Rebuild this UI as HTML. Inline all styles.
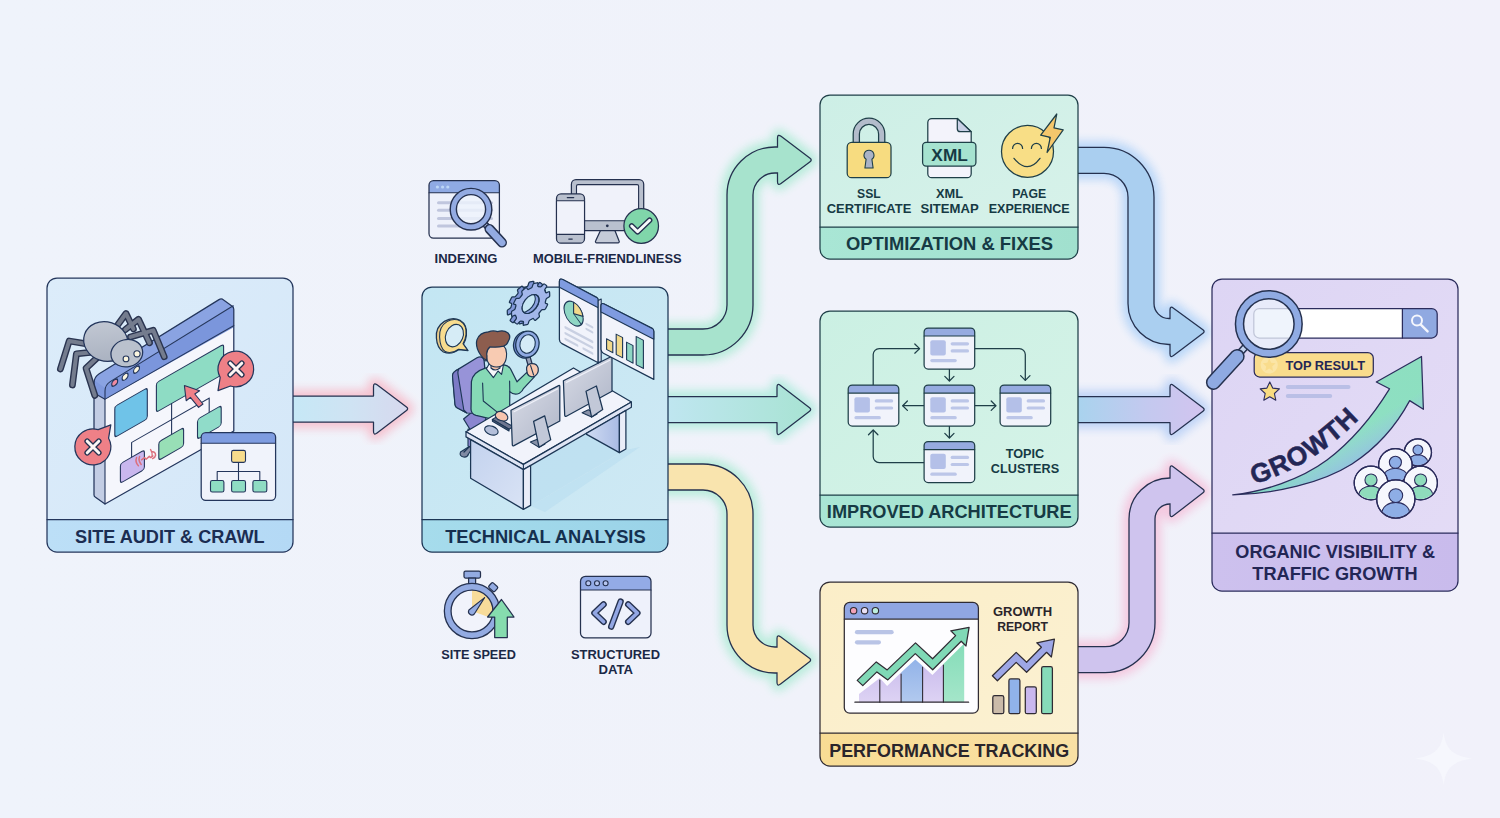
<!DOCTYPE html>
<html lang="en">
<head>
<meta charset="utf-8">
<title>Technical SEO Workflow</title>
<style>
html,body{margin:0;padding:0;background:#f0f3fb;}
body{width:1500px;height:818px;overflow:hidden;}
svg{display:block;}
text{font-family:"Liberation Sans",sans-serif;font-weight:700;fill:var(--tk,#1b2846);}
.o{stroke:var(--k,#25314f);stroke-width:1.25;stroke-linejoin:round;stroke-linecap:round;}
.t{stroke:var(--k,#25314f);stroke-width:1.1;stroke-linejoin:round;stroke-linecap:round;}
.n{fill:none;}
.k1{--k:#24365c;--tk:#1b2d52;}
.k2{--k:#1c3655;--tk:#15304f;}
.k3{--k:#1f3f48;--tk:#163a44;}
.k5{--k:#2f2b33;--tk:#2a252b;}
.k6{--k:#2b2c5c;--tk:#232655;}
</style>
</head>
<body>
<svg width="1500" height="818" viewBox="0 0 1500 818">
<defs>
<linearGradient id="bg" x1="0" y1="0" x2="1" y2="0">
<stop offset="0" stop-color="#eff3fb"/><stop offset="0.55" stop-color="#f0f2fa"/><stop offset="1" stop-color="#f1f1fa"/>
</linearGradient>
<filter id="glow" x="-20%" y="-20%" width="140%" height="140%"><feGaussianBlur stdDeviation="5"/></filter>
<filter id="soft" x="-20%" y="-20%" width="140%" height="140%"><feGaussianBlur stdDeviation="3"/></filter>
<linearGradient id="ga1" gradientUnits="userSpaceOnUse" x1="293" y1="0" x2="409" y2="0">
<stop offset="0" stop-color="#c6e8f6"/><stop offset="0.5" stop-color="#cfe3f3"/><stop offset="1" stop-color="#d7d8ee"/>
</linearGradient>
<linearGradient id="ga2" gradientUnits="userSpaceOnUse" x1="668" y1="0" x2="812" y2="0">
<stop offset="0" stop-color="#bfe6f0"/><stop offset="1" stop-color="#a8e3d3"/>
</linearGradient>
<linearGradient id="ga3" gradientUnits="userSpaceOnUse" x1="1078" y1="0" x2="1205" y2="0">
<stop offset="0" stop-color="#a9d3ee"/><stop offset="0.55" stop-color="#c4c9ef"/><stop offset="1" stop-color="#d2c4ef"/>
</linearGradient>

<linearGradient id="b1" x1="0" y1="0" x2="1" y2="1"><stop offset="0" stop-color="#dcecfa"/><stop offset="1" stop-color="#d4e7f8"/></linearGradient>
<linearGradient id="b2" x1="0" y1="0" x2="1" y2="1"><stop offset="0" stop-color="#c3e6f3"/><stop offset="1" stop-color="#cfe9f4"/></linearGradient>
<linearGradient id="b3" x1="0" y1="0" x2="1" y2="1"><stop offset="0" stop-color="#cdefe6"/><stop offset="1" stop-color="#d8f2ea"/></linearGradient>
<linearGradient id="b4" x1="0" y1="0" x2="1" y2="1"><stop offset="0" stop-color="#cbf0e3"/><stop offset="1" stop-color="#d6f3e8"/></linearGradient>
<linearGradient id="b5" x1="0" y1="0" x2="1" y2="1"><stop offset="0" stop-color="#fbeec8"/><stop offset="1" stop-color="#fbf1d3"/></linearGradient>
<linearGradient id="b6" x1="0" y1="0" x2="1" y2="1"><stop offset="0" stop-color="#ddd5f4"/><stop offset="1" stop-color="#e4dcf6"/></linearGradient>
<linearGradient id="l1" x1="0" y1="0" x2="1" y2="0"><stop offset="0" stop-color="#bcdff7"/><stop offset="1" stop-color="#b4d9f5"/></linearGradient>
<linearGradient id="l2" x1="0" y1="0" x2="1" y2="0"><stop offset="0" stop-color="#a6dcec"/><stop offset="1" stop-color="#9ad3e8"/></linearGradient>
<linearGradient id="l3" x1="0" y1="0" x2="1" y2="0"><stop offset="0" stop-color="#a9e6d5"/><stop offset="1" stop-color="#a1e0ce"/></linearGradient>
<linearGradient id="l5" x1="0" y1="0" x2="1" y2="0"><stop offset="0" stop-color="#f8dc94"/><stop offset="1" stop-color="#f9e0a4"/></linearGradient>
<linearGradient id="l6" x1="0" y1="0" x2="1" y2="0"><stop offset="0" stop-color="#cdc1ee"/><stop offset="1" stop-color="#c9bbec"/></linearGradient>

<filter id="b05"><feGaussianBlur stdDeviation="0.6"/></filter>
<linearGradient id="spg" x1="0.2" y1="0" x2="0.7" y2="1"><stop offset="0" stop-color="#c3c9d4"/><stop offset="1" stop-color="#a9b1c0"/></linearGradient>
<linearGradient id="dk1" x1="0" y1="0" x2="1" y2="1"><stop offset="0" stop-color="#c3d2ee"/><stop offset="1" stop-color="#d9e3f5"/></linearGradient>
<linearGradient id="dk2" x1="0" y1="0" x2="1" y2="0"><stop offset="0" stop-color="#cfdbf2"/><stop offset="1" stop-color="#a9bbe4"/></linearGradient>
<linearGradient id="mn" x1="0" y1="0" x2="1" y2="1"><stop offset="0" stop-color="#d8dbe6"/><stop offset="1" stop-color="#afb6c8"/></linearGradient>
</defs>
<rect width="1500" height="818" fill="url(#bg)"/>

<!-- ARROWS -->
<g id="arrows">
<g>
<path d="M285.00,396.00 L373.50,396.00 L373.50,386.61 Q373.50,382.20 377.02,384.86 L406.49,407.06 Q408.80,408.80 406.50,410.56 L377.04,433.09 Q373.50,435.80 373.50,431.35 L373.50,422.00 L285.00,422.00 Z" fill="#f6c0ce" stroke="#f6c0ce" stroke-width="12" stroke-linejoin="round" filter="url(#glow)" opacity="0.95"/>
<path d="M285.00,396.00 L373.50,396.00 L373.50,386.61 Q373.50,382.20 377.02,384.86 L406.49,407.06 Q408.80,408.80 406.50,410.56 L377.04,433.09 Q373.50,435.80 373.50,431.35 L373.50,422.00 L285.00,422.00 Z" fill="url(#ga1)" class="o"/>
</g>
<g>
<g filter="url(#glow)" opacity="0.95"><path d="M660,342 H703 A37,37 0 0 0 740,305 V195 A35,35 0 0 1 775,160 H777" fill="none" stroke="#b4ecd8" stroke-width="38"/><path d="M777.50,138.02 Q777.50,133.60 781.03,136.27 L810.06,158.23 Q812.40,160.00 810.05,161.75 L781.01,183.38 Q777.50,186.00 777.50,181.62 Z" fill="#b4ecd8" stroke="#b4ecd8" stroke-width="12" stroke-linejoin="round"/></g>
<path d="M660,342 H703 A37,37 0 0 0 740,305 V195 A35,35 0 0 1 775,160 H777" fill="none" stroke="#25314f" stroke-width="27.3"/>
<path d="M777.50,138.02 Q777.50,133.60 781.03,136.27 L810.06,158.23 Q812.40,160.00 810.05,161.75 L781.01,183.38 Q777.50,186.00 777.50,181.62 Z" fill="#a7e3cd" class="o"/>
<path d="M660,342 H703 A37,37 0 0 0 740,305 V195 A35,35 0 0 1 775,160 H777 h3.5" fill="none" stroke="#a7e3cd" stroke-width="24.7"/>
</g>
<g>
<path d="M660.00,396.50 L777.00,396.50 L777.00,387.17 Q777.00,382.70 780.54,385.43 L809.54,407.76 Q811.80,409.50 809.54,411.24 L780.54,433.57 Q777.00,436.30 777.00,431.83 L777.00,422.50 L660.00,422.50 Z" fill="#b4ecdf" stroke="#b4ecdf" stroke-width="12" stroke-linejoin="round" filter="url(#glow)" opacity="0.95"/>
<path d="M660.00,396.50 L777.00,396.50 L777.00,387.17 Q777.00,382.70 780.54,385.43 L809.54,407.76 Q811.80,409.50 809.54,411.24 L780.54,433.57 Q777.00,436.30 777.00,431.83 L777.00,422.50 L660.00,422.50 Z" fill="url(#ga2)" class="o"/>
</g>
<g>
<g filter="url(#glow)" opacity="0.95"><path d="M660,477 H703 A37,37 0 0 1 740,514 V625 A35,35 0 0 0 775,660 H777" fill="none" stroke="#b6ecd9" stroke-width="38"/><path d="M777.00,638.57 Q777.00,634.20 780.51,636.80 L809.46,658.27 Q811.80,660.00 809.49,661.78 L780.54,684.07 Q777.00,686.80 777.00,682.33 Z" fill="#b6ecd9" stroke="#b6ecd9" stroke-width="12" stroke-linejoin="round"/></g>
<path d="M660,477 H703 A37,37 0 0 1 740,514 V625 A35,35 0 0 0 775,660 H777" fill="none" stroke="#25314f" stroke-width="27.3"/>
<path d="M777.00,638.57 Q777.00,634.20 780.51,636.80 L809.46,658.27 Q811.80,660.00 809.49,661.78 L780.54,684.07 Q777.00,686.80 777.00,682.33 Z" fill="#f9e4ae" class="o"/>
<path d="M660,477 H703 A37,37 0 0 1 740,514 V625 A35,35 0 0 0 775,660 H777 h3.5" fill="none" stroke="#f9e4ae" stroke-width="24.7"/>
</g>
<g>
<g filter="url(#glow)" opacity="0.95"><path d="M1070,160.3 H1104 A37,37 0 0 1 1141,197.3 V303.5 A28,28 0 0 0 1169,331.5 H1170" fill="none" stroke="#b5d5f8" stroke-width="38"/><path d="M1170.00,309.94 Q1170.00,305.60 1173.50,308.17 L1202.92,329.76 Q1205.30,331.50 1202.95,333.28 L1173.53,355.62 Q1170.00,358.30 1170.00,353.87 Z" fill="#b5d5f8" stroke="#b5d5f8" stroke-width="12" stroke-linejoin="round"/></g>
<path d="M1070,160.3 H1104 A37,37 0 0 1 1141,197.3 V303.5 A28,28 0 0 0 1169,331.5 H1170" fill="none" stroke="#25314f" stroke-width="27.3"/>
<path d="M1170.00,309.94 Q1170.00,305.60 1173.50,308.17 L1202.92,329.76 Q1205.30,331.50 1202.95,333.28 L1173.53,355.62 Q1170.00,358.30 1170.00,353.87 Z" fill="#aacff0" class="o"/>
<path d="M1070,160.3 H1104 A37,37 0 0 1 1141,197.3 V303.5 A28,28 0 0 0 1169,331.5 H1170 h3.5" fill="none" stroke="#aacff0" stroke-width="24.7"/>
</g>
<g>
<path d="M1070.00,396.50 L1170.00,396.50 L1170.00,387.13 Q1170.00,382.70 1173.53,385.38 L1202.99,407.75 Q1205.30,409.50 1202.99,411.25 L1173.53,433.62 Q1170.00,436.30 1170.00,431.87 L1170.00,422.50 L1070.00,422.50 Z" fill="#bcd2f6" stroke="#bcd2f6" stroke-width="12" stroke-linejoin="round" filter="url(#glow)" opacity="0.95"/>
<path d="M1070.00,396.50 L1170.00,396.50 L1170.00,387.13 Q1170.00,382.70 1173.53,385.38 L1202.99,407.75 Q1205.30,409.50 1202.99,411.25 L1173.53,433.62 Q1170.00,436.30 1170.00,431.87 L1170.00,422.50 L1070.00,422.50 Z" fill="url(#ga3)" class="o"/>
</g>
<g>
<g filter="url(#glow)" opacity="0.95"><path d="M1070,659.7 H1105 A37,37 0 0 0 1142,622.7 V519 A28,28 0 0 1 1170,491 H1170.5" fill="none" stroke="#f4c6de" stroke-width="38"/><path d="M1170.00,468.63 Q1170.00,464.20 1173.53,466.88 L1203.01,489.26 Q1205.30,491.00 1203.03,492.76 L1173.55,515.56 Q1170.00,518.30 1170.00,513.82 Z" fill="#f4c6de" stroke="#f4c6de" stroke-width="12" stroke-linejoin="round"/></g>
<path d="M1070,659.7 H1105 A37,37 0 0 0 1142,622.7 V519 A28,28 0 0 1 1170,491 H1170.5" fill="none" stroke="#25314f" stroke-width="27.3"/>
<path d="M1170.00,468.63 Q1170.00,464.20 1173.53,466.88 L1203.01,489.26 Q1205.30,491.00 1203.03,492.76 L1173.55,515.56 Q1170.00,518.30 1170.00,513.82 Z" fill="#cfc4ee" class="o"/>
<path d="M1070,659.7 H1105 A37,37 0 0 0 1142,622.7 V519 A28,28 0 0 1 1170,491 H1170.5 h3.5" fill="none" stroke="#cfc4ee" stroke-width="24.7"/>
</g>
</g>

<!-- BOXES -->
<g id="boxes">
<g class="k1">
<rect x="47" y="278" width="246" height="274" rx="10" fill="url(#b1)"/>
<path d="M47,519.5 H293 V542 a10,10 0 0 1 -10,10 H57 a10,10 0 0 1 -10,-10 Z" fill="url(#l1)"/>
<path d="M47,519.5 H293" class="o n"/>
<rect x="47" y="278" width="246" height="274" rx="10" class="o n"/>
</g>
<g class="k2">
<rect x="422" y="287" width="246" height="265" rx="10" fill="url(#b2)"/>
<path d="M422,519.5 H668 V542 a10,10 0 0 1 -10,10 H432 a10,10 0 0 1 -10,-10 Z" fill="url(#l2)"/>
<path d="M422,519.5 H668" class="o n"/>
<rect x="422" y="287" width="246" height="265" rx="10" class="o n"/>
</g>
<g class="k3">
<rect x="820" y="95" width="258" height="164" rx="10" fill="url(#b3)"/>
<path d="M820,227 H1078 V249 a10,10 0 0 1 -10,10 H830 a10,10 0 0 1 -10,-10 Z" fill="url(#l3)"/>
<path d="M820,227 H1078" class="o n"/>
<rect x="820" y="95" width="258" height="164" rx="10" class="o n"/>
</g>
<g class="k3">
<rect x="820" y="311" width="258" height="216" rx="10" fill="url(#b4)"/>
<path d="M820,495 H1078 V517 a10,10 0 0 1 -10,10 H830 a10,10 0 0 1 -10,-10 Z" fill="url(#l3)"/>
<path d="M820,495 H1078" class="o n"/>
<rect x="820" y="311" width="258" height="216" rx="10" class="o n"/>
</g>
<g class="k5">
<rect x="820" y="582" width="258" height="184" rx="10" fill="url(#b5)"/>
<path d="M820,733 H1078 V756 a10,10 0 0 1 -10,10 H830 a10,10 0 0 1 -10,-10 Z" fill="url(#l5)"/>
<path d="M820,733 H1078" class="o n"/>
<rect x="820" y="582" width="258" height="184" rx="10" class="o n"/>
</g>
<g class="k6">
<rect x="1212" y="279" width="246" height="312" rx="10" fill="url(#b6)"/>
<path d="M1212,533 H1458 V581 a10,10 0 0 1 -10,10 H1222 a10,10 0 0 1 -10,-10 Z" fill="url(#l6)"/>
<path d="M1212,533 H1458" class="o n"/>
<rect x="1212" y="279" width="246" height="312" rx="10" class="o n"/>
</g>
<text class="k1" x="169.8" y="543" font-size="19" text-anchor="middle" textLength="189.5" lengthAdjust="spacingAndGlyphs">SITE AUDIT &amp; CRAWL</text>
<text class="k2" x="545.4" y="543" font-size="19" text-anchor="middle" textLength="200.5" lengthAdjust="spacingAndGlyphs">TECHNICAL ANALYSIS</text>

</g>

<g id="labels">
<text class="k3" x="949.5" y="250" font-size="19" text-anchor="middle" textLength="207" lengthAdjust="spacingAndGlyphs">OPTIMIZATION &amp; FIXES</text>
<text class="k3" x="949.2" y="518" font-size="19" text-anchor="middle" textLength="244.7" lengthAdjust="spacingAndGlyphs">IMPROVED ARCHITECTURE</text>
<text class="k5" x="949.2" y="756.7" font-size="19" text-anchor="middle" textLength="240" lengthAdjust="spacingAndGlyphs">PERFORMANCE TRACKING</text>
<text class="k6" x="1335.2" y="557.9" font-size="19" text-anchor="middle" textLength="199.7" lengthAdjust="spacingAndGlyphs">ORGANIC VISIBILITY &amp;</text>
<text class="k6" x="1335" y="580.1" font-size="19" text-anchor="middle" textLength="165.3" lengthAdjust="spacingAndGlyphs">TRAFFIC GROWTH</text>
</g>
<g id="art1" class="k1">
<!-- back legs of spider (right side legs go behind header? they are in front) -->
<!-- slab -->
<path d="M105,504 L95.5,497.2 a2.5,2.5 0 0 1 -1.5,-2.2 V383 a11,11 0 0 1 5.2,-9.3 L219,299.6 a4,4 0 0 1 4.6,0.3 L232.2,306.2 a4,4 0 0 1 1.6,3.2 V431 Z" fill="#8aa3e2"/>
<path d="M94,381 L105,389 V504 L95.5,497.2 a2.5,2.5 0 0 1 -1.5,-2.2 Z" fill="#c3cde4"/>
<path d="M94,380 L105,388 V399.2 L94,393 Z" fill="#7f99dd"/>
<path d="M94,393 L105,399.2" class="t n"/>
<!-- front face -->
<path d="M105,391 a11,11 0 0 1 5.2,-9.4 L233.8,305.4 V431 L105,504 Z" fill="#f5f6fc"/>
<path d="M105,391 a11,11 0 0 1 5.2,-9.4 L233.8,305.4 V327.2 L105,399.2 Z" fill="#7b96dc"/>
<g transform="matrix(1,-0.5714,0,1,105,379)">
<path d="M0,20.2 H128.8" class="t n"/>
<circle cx="9.7" cy="9.2" r="3" fill="#f08aa0" class="t"/>
<circle cx="20.1" cy="9.2" r="3" fill="#fbf6df" class="t"/>
<circle cx="31.5" cy="8.6" r="3" fill="#fbf6df" class="t"/>
<rect x="9.8" y="33" width="32.5" height="31" rx="2.5" fill="#6fc3e8" class="t"/>
<rect x="51.4" y="33" width="67.2" height="29.6" rx="2.5" fill="#8edcc4" class="t"/>
<path d="M66.6,62.6 V93.5 M26.6,93.5 V78.7 H104.2 V93" class="t n"/>
<rect x="92.5" y="93" width="23.7" height="20" rx="2.5" fill="#90dcc9" class="t"/>
<rect x="53.8" y="93.5" width="24.8" height="18.5" rx="2.5" fill="#98dfb6" class="t"/>
<rect x="15.4" y="93.5" width="24" height="19.5" rx="2.5" fill="#c9b7ee" class="t"/>
</g>
<!-- inner top edge and outline -->
<path d="M105,504 V391 a11,11 0 0 1 5.2,-9.4 L233.2,305.8" class="t n"/>
<path d="M105,504 L95.5,497.2 a2.5,2.5 0 0 1 -1.5,-2.2 V383 a11,11 0 0 1 5.2,-9.3 L219,299.6 a4,4 0 0 1 4.6,0.3 L232.2,306.2 a4,4 0 0 1 1.6,3.2 V431 Z" class="o n"/>
<!-- broken link squiggle -->
<g transform="translate(0,-4)" fill="none" stroke="#dc6f7d" stroke-width="1.5" stroke-linecap="round" stroke-linejoin="round">
<path d="M136.6,461.5 q-1.8,4.5 1.8,8.2"/><path d="M139.6,460.6 q-1.6,4.2 1.6,7.8"/>
<path d="M141.5,463.8 l3,-2.2 1.6,1.6 3.2,-2.8 1.4,1.2 2.2,-1.6"/>
<path d="M152,455.8 q3.4,-0.4 3.6,3.4 q-0.4,2.6 -3,3.4"/><path d="M150.6,453.6 q2,2.6 1.6,6.6"/>
</g>
<!-- cursor arrow -->
<path d="M184.4,385.6 L186.2,400.8 L190.4,397.4 L198.6,407.4 L203,404 L194.8,394 L199.6,390.8 Z" fill="#ee8088" class="t"/>
<!-- bubbles -->
<path d="M220.2,377.5 A17.8,17.8 0 1 1 230.5,386 L218,390.6 Z" fill="#ee8087" class="o"/>
<g stroke-linecap="round" fill="none"><path d="M230.2,363.2 L241.8,374.8 M241.8,363.2 L230.2,374.8" stroke="#25314f" stroke-width="5.6"/><path d="M230.2,363.2 L241.8,374.8 M241.8,363.2 L230.2,374.8" stroke="#fdf6f4" stroke-width="3"/></g>
<path d="M108.6,438.2 A18,18 0 1 1 98.2,429.7 L110.8,424.8 Z" fill="#ee8087" class="o"/>
<g stroke-linecap="round" fill="none"><path d="M87.2,441.2 L98.8,452.8 M98.8,441.2 L87.2,452.8" stroke="#25314f" stroke-width="5.6"/><path d="M87.2,441.2 L98.8,452.8 M98.8,441.2 L87.2,452.8" stroke="#fdf6f4" stroke-width="3"/></g>
<!-- mini window -->
<clipPath id="cm1"><rect x="201.2" y="432.5" width="74.4" height="67.8" rx="4.5"/></clipPath>
<rect x="201.2" y="432.5" width="74.4" height="67.8" rx="4.5" fill="#f0f3fb"/>
<rect x="201.2" y="432.5" width="74.4" height="10.7" fill="#7e9ce0" clip-path="url(#cm1)"/>
<path d="M201.2,443.2 H275.6" class="t n"/>
<rect x="201.2" y="432.5" width="74.4" height="67.8" rx="4.5" class="o n"/>
<path d="M238.5,462.4 V480.5 M217.2,480.5 V471.5 H259.8 V480.5" class="t n"/>
<rect x="231.6" y="450.4" width="13.9" height="12" rx="1.8" fill="#f7dc8c" class="t"/>
<rect x="210.5" y="480.5" width="13.4" height="11.5" rx="1.8" fill="#8fdcc3" class="t"/>
<rect x="231.6" y="480.5" width="13.9" height="11.5" rx="1.8" fill="#8fdcc3" class="t"/>
<rect x="252.9" y="480.5" width="13.9" height="11.5" rx="1.8" fill="#8fdcc3" class="t"/>
<!-- spider -->
<g fill="none" stroke-linecap="round" stroke-linejoin="round">
<g stroke="#2a3450" stroke-width="6.8">
<path d="M118,324.5 L126,313.5 L133.4,328.9"/><path d="M125.3,329.6 L138.5,319.3 L149.5,342.8"/><path d="M130.5,336.9 L153.2,330.3 L164.2,356.7"/>
<path d="M88.4,344.2 L69.2,341 L60.4,369"/><path d="M92.4,352.2 L76.4,353.8 L72.4,385"/><path d="M99.6,355.4 L86,368.2 L94.8,395.4"/>
</g>
<g stroke="#747c8e" stroke-width="4">
<path d="M118,324.5 L126,313.5 L133.4,328.9"/><path d="M125.3,329.6 L138.5,319.3 L149.5,342.8"/><path d="M130.5,336.9 L153.2,330.3 L164.2,356.7"/>
<path d="M88.4,344.2 L69.2,341 L60.4,369"/><path d="M92.4,352.2 L76.4,353.8 L72.4,385"/><path d="M99.6,355.4 L86,368.2 L94.8,395.4"/>
</g>
</g>
<ellipse cx="105.8" cy="341.5" rx="22.4" ry="19.6" transform="rotate(18 105.8 341.5)" fill="url(#spg)" class="o"/>
<ellipse cx="126.8" cy="353.2" rx="16" ry="13.6" transform="rotate(-14 126.8 353.2)" fill="#bac1cd" class="o"/>
<circle cx="126" cy="358.9" r="2.9" fill="#fbf6df" class="t"/>
<circle cx="137" cy="353.8" r="3.1" fill="#fbf6df" class="t"/>
</g>
<g id="art2" class="k2">
<!-- floor shadow -->
<path d="M470.6,478 L523.4,509.5 L530.6,506 L626,449.5 L619.4,452.4 L586.6,434 L530.6,466 L530.6,470 L480,442 Z" fill="#b6dbef" opacity="0.55"/>
<path d="M531,506 L626,450 L640,447 L545,512 Z" fill="#b6dbef" opacity="0.5"/>
<!-- chair -->
<path d="M460.5,452 q-1.5,4 3,5 q4,0.6 5,-3 l4,-6 l-2.5,-2 Z" fill="#7f8aa3" class="t"/>
<path d="M470,446 L464,452" class="o n"/>
<path d="M463.6,419 L472,412 L486,418 L483.5,426.5 L471,431 Z" fill="#8a86d0" class="o"/>
<path d="M468,429 L468,446 L473,448 L473,430 Z" fill="#8a86d0" class="t"/>
<path d="M452.6,377 q-0.6,-4 3.4,-6.4 L477,357.8 q4.6,-2.4 7,1.6 L489,414 L466.8,413 L456.6,407.4 q-1.4,-1 -1.6,-3 Z" fill="#9793d8" class="o"/>
<path d="M452.6,377 q-0.6,-4 3.4,-6.4 l2.6,-1.4 q-1,2.4 -0.6,5 L463.8,410 L466.8,413 L456.6,407.4 q-1.4,-1 -1.6,-3 Z" fill="#7c7ac6" class="t"/>
<!-- person body -->
<path d="M490.6,366.4 L484,368.6 q-11,3.4 -12.6,13 L471,409 q0,5 5,6.4 L496,420 L504,414 L509.6,414 L509.8,391.6 q4.4,4.2 9.6,1.6 q3,-1.8 4,-4.6 L534.6,376.6 L526.6,372.6 L517,381.8 L510.6,369 q-2.2,-3.6 -6.4,-4.2 Z" fill="#86d9b6" class="o"/>
<path d="M482.6,383 L483.3,401 L496.6,411.6 M509.8,391.6 L509.6,381" class="t n"/>
<path d="M489.4,363.6 L486.4,368.8 L493.4,377.6 L498,371 L501.6,374.4 L503.4,365.2 L500.4,362 Z" fill="#f7f7fb" class="t"/>
<path d="M491,360 V368 q4,4 9,0 V360 Z" fill="#f4c1a8" class="t"/>
<!-- head -->
<path d="M486.2,356.4 q-2.6,-1 -2.8,1.8 q0.2,3 3.4,2.6 Z" fill="#f8cbb2" class="t"/>
<path d="M486,352 q0,-8 10.4,-8 q10.2,0 10.2,9.4 q0,13.600000000000001 -10.2,13.600000000000001 q-10.4,0 -10.4,-15 Z" fill="#f8cbb2" class="t"/>
<path d="M486.6,360.4 q-3,-1 -6,-5.4 q-5.6,-8 -3.6,-15.4 q2.600000000000001,-7.2 11.4,-7.8 q4.6,-1.6 9.2,-0.2 q6,-2.2 10.4,1.4 q3.4,3.6 0.2,8.4 q-1,3.4 -4.6,4.8 q-7,1.6 -13.4,0.6 q-3.8,3.2 -3.4,7.6 q0.4,3 -0.2,6 Z" fill="#8d5d4e" class="o"/>
<!-- desk -->
<path d="M466,431.7 L573.5,368 L631.4,402 L523.4,464.4 Z" fill="#f1f3fb" class="o"/>
<path d="M466,431.7 L523.4,464.4 L631.4,402 V407.2 L523.4,469.6 L466,436.9 Z" fill="#dfe5f4" class="o"/>
<path d="M523.4,464.4 V469.6" class="t n"/>
<path d="M470.6,439.6 L523.4,469.6 V509.4 L470.6,478.2 Z" fill="url(#dk1)" class="o"/>
<path d="M523.4,469.6 L530.6,465.5 V505.4 L523.4,509.4 Z" fill="#e9edf8" class="o"/>
<path d="M586.6,433.2 L619.4,414.2 V452.6 L586.6,434.4 Z" fill="url(#dk2)" class="o"/>
<path d="M619.4,414.2 L625.9,410.4 V449 L619.4,452.6 Z" fill="#e9edf8" class="o"/>
<!-- keyboard, mouse, hand -->
<ellipse cx="491.4" cy="430.4" rx="7" ry="4.3" transform="rotate(20 491.4 430.4)" fill="#b4bfda" class="t"/>
<path d="M492.4,419.4 L496.4,417 L513,426.6 L509,429.2 Z" fill="#6f7791" class="t"/>
<path d="M492.4,419.4 L509,429.2 V431 L492.4,421.2 Z" fill="#545c75" class="t"/>
<path d="M495.2,415.6 q0.6,-4.6 5.6,-4.2 q5.6,1 7,5.400000000000001 q0.4,4 -4,4.2 q-7,-0.4 -8.6,-5.4 Z" fill="#f8c4ae" class="t"/>
<!-- left monitor -->
<path d="M511,410.3 L558.6,385.6 q1.2,-0.4 1.2,0.8 V421 L514,445.6 q-1.6,0.6 -1.7,-1 Z" fill="url(#mn)" class="o"/>
<path d="M513.6,412 L558,388.6" stroke="#eef0f8" stroke-width="1.2" fill="none"/>
<path d="M530.4,442.1 L536.7,439.4 L545,444 L539.1,447.3 Z" fill="#8891a8" class="t"/>
<path d="M533.6,421.4 L544.7,415.9 L550.7,439.7 L539.1,447.3 Z" fill="#c2c8d8" class="o"/>
<!-- right monitor -->
<path d="M563.4,380.8 L610.8,356.8 q1.2,-0.4 1.2,0.8 V391.2 L566.4,416.2 q-1.6,0.6 -1.7,-1 Z" fill="url(#mn)" class="o"/>
<path d="M566,382.6 L610.2,360" stroke="#eef0f8" stroke-width="1.2" fill="none"/>
<path d="M582.1,412.7 L588.4,409.8 L597,414 L591.6,417.1 Z" fill="#8891a8" class="t"/>
<path d="M586,391.2 L596.4,386 L602.7,409.5 L591.6,417.1 Z" fill="#c2c8d8" class="o"/>
<!-- panel 1 -->
<g>
<path d="M559.4,281.5 q0,-3.6 3.4,-2 L596.6,297.4 q1.6,1 1.6,3 V362.8 L562,343.6 q-2.6,-1.400000000000001 -2.6,-4.2 Z" fill="#f1f3fb" class="o"/>
<path d="M559.4,281.5 q0,-3.6 3.4,-2 L596.6,297.4 q1.6,1 1.6,3 V307.8 L559.4,287.2 Z" fill="#7f9be0" class="t"/>
<path d="M598.2,300.4 L601.2,299 V361.2 L598.2,362.8 Z" fill="#d5dcee" class="t"/>
<g transform="matrix(1,0.53,0,1,559.4,278.5)">
<ellipse cx="14.2" cy="27.6" rx="9.6" ry="11.4" fill="#8fd6c4" class="t"/>
<path d="M14.2,27.6 L14.2,16.2 A9.6,11.4 0 0 1 23.6,25.4 Z" fill="#f1d98c" class="t"/>
<path d="M14.2,27.6 L22,34.4" class="t n"/>
<g fill="#c9d0e2"><rect x="5" y="44.5" width="29" height="2.6" rx="1.3"/><rect x="5" y="50.3" width="29" height="2.6" rx="1.3"/><rect x="5" y="56.1" width="14" height="2.6" rx="1.3"/><rect x="23" y="56.1" width="11" height="2.6" rx="1.3"/><rect x="26" y="30" width="8" height="2.4" rx="1.2"/><rect x="26" y="35" width="8" height="2.4" rx="1.2"/></g>
</g>
</g>
<!-- panel 2 -->
<g>
<path d="M601,306 q0,-3.6 3.2,-2 L652.2,328.4 q1.6,1 1.6,3 V379.4 L603.4,353.2 q-2.4,-1.4 -2.4,-4 Z" fill="#f1f3fb" class="o"/>
<path d="M601,306 q0,-3.6 3.2,-2 L652.2,328.4 q1.6,1 1.6,3 V339.2 L601,312 Z" fill="#7f9be0" class="t"/>
<g transform="matrix(1,0.515,0,1,601,303)">
<path d="M5.6,33 H11.8 V43.6 H5.6 Z" fill="#f1d98c" class="t"/>
<path d="M15.2,23.4 H21.6 V43.6 H15.2 Z" fill="#f1d98c" class="t"/>
<path d="M25.6,26 H32 V43.6 H25.6 Z" fill="#8fd6c4" class="t"/>
<path d="M35.2,15.4 H42.4 V43.6 H35.2 Z" fill="#8fd6c4" class="t"/>
</g>
</g>
<!-- gear -->
<g>
<clipPath id="gh"><circle r="10.8" transform="translate(530.6,304) rotate(-52) scale(1,0.62)"/></clipPath>
<path d="M19.34,-4.70 Q19.65,-3.75 20.57,-3.64 L23.36,-3.33 Q24.29,-3.22 24.29,-1.93 L24.29,1.93 Q24.29,3.22 23.36,3.33 L20.57,3.64 Q19.65,3.75 19.34,4.70 L18.41,7.56 Q18.10,8.52 18.79,9.15 L20.85,11.04 Q21.54,11.67 20.79,12.71 L18.51,15.84 Q17.75,16.88 16.94,16.42 L14.50,15.04 Q13.69,14.58 12.88,15.17 L10.45,16.94 Q9.64,17.53 9.82,18.44 L10.38,21.19 Q10.57,22.10 9.34,22.50 L5.67,23.70 Q4.44,24.09 4.05,23.24 L2.89,20.69 Q2.51,19.84 1.50,19.84 L-1.50,19.84 Q-2.51,19.84 -2.89,20.69 L-4.05,23.24 Q-4.44,24.09 -5.67,23.70 L-9.34,22.50 Q-10.57,22.10 -10.38,21.19 L-9.82,18.44 Q-9.64,17.53 -10.45,16.94 L-12.88,15.17 Q-13.69,14.58 -14.50,15.04 L-16.94,16.42 Q-17.75,16.88 -18.51,15.84 L-20.79,12.71 Q-21.54,11.67 -20.85,11.04 L-18.79,9.15 Q-18.10,8.52 -18.41,7.56 L-19.34,4.70 Q-19.65,3.75 -20.57,3.64 L-23.36,3.33 Q-24.29,3.22 -24.29,1.93 L-24.29,-1.93 Q-24.29,-3.22 -23.36,-3.33 L-20.57,-3.64 Q-19.65,-3.75 -19.34,-4.70 L-18.41,-7.56 Q-18.10,-8.52 -18.79,-9.15 L-20.85,-11.04 Q-21.54,-11.67 -20.79,-12.71 L-18.51,-15.84 Q-17.75,-16.88 -16.94,-16.42 L-14.50,-15.04 Q-13.69,-14.58 -12.88,-15.17 L-10.45,-16.94 Q-9.64,-17.53 -9.82,-18.44 L-10.38,-21.19 Q-10.57,-22.10 -9.34,-22.50 L-5.67,-23.70 Q-4.44,-24.09 -4.05,-23.24 L-2.89,-20.69 Q-2.51,-19.84 -1.50,-19.84 L1.50,-19.84 Q2.51,-19.84 2.89,-20.69 L4.05,-23.24 Q4.44,-24.09 5.67,-23.70 L9.34,-22.50 Q10.57,-22.10 10.38,-21.19 L9.82,-18.44 Q9.64,-17.53 10.45,-16.94 L12.88,-15.17 Q13.69,-14.58 14.50,-15.04 L16.94,-16.42 Q17.75,-16.88 18.51,-15.84 L20.79,-12.71 Q21.54,-11.67 20.85,-11.04 L18.79,-9.15 Q18.10,-8.52 18.41,-7.56 Z" transform="translate(526.4,302.6) rotate(-52) scale(1,0.62)" fill="#8197d8" class="o" vector-effect="non-scaling-stroke"/>
<path d="M19.34,-4.70 Q19.65,-3.75 20.57,-3.64 L23.36,-3.33 Q24.29,-3.22 24.29,-1.93 L24.29,1.93 Q24.29,3.22 23.36,3.33 L20.57,3.64 Q19.65,3.75 19.34,4.70 L18.41,7.56 Q18.10,8.52 18.79,9.15 L20.85,11.04 Q21.54,11.67 20.79,12.71 L18.51,15.84 Q17.75,16.88 16.94,16.42 L14.50,15.04 Q13.69,14.58 12.88,15.17 L10.45,16.94 Q9.64,17.53 9.82,18.44 L10.38,21.19 Q10.57,22.10 9.34,22.50 L5.67,23.70 Q4.44,24.09 4.05,23.24 L2.89,20.69 Q2.51,19.84 1.50,19.84 L-1.50,19.84 Q-2.51,19.84 -2.89,20.69 L-4.05,23.24 Q-4.44,24.09 -5.67,23.70 L-9.34,22.50 Q-10.57,22.10 -10.38,21.19 L-9.82,18.44 Q-9.64,17.53 -10.45,16.94 L-12.88,15.17 Q-13.69,14.58 -14.50,15.04 L-16.94,16.42 Q-17.75,16.88 -18.51,15.84 L-20.79,12.71 Q-21.54,11.67 -20.85,11.04 L-18.79,9.15 Q-18.10,8.52 -18.41,7.56 L-19.34,4.70 Q-19.65,3.75 -20.57,3.64 L-23.36,3.33 Q-24.29,3.22 -24.29,1.93 L-24.29,-1.93 Q-24.29,-3.22 -23.36,-3.33 L-20.57,-3.64 Q-19.65,-3.75 -19.34,-4.70 L-18.41,-7.56 Q-18.10,-8.52 -18.79,-9.15 L-20.85,-11.04 Q-21.54,-11.67 -20.79,-12.71 L-18.51,-15.84 Q-17.75,-16.88 -16.94,-16.42 L-14.50,-15.04 Q-13.69,-14.58 -12.88,-15.17 L-10.45,-16.94 Q-9.64,-17.53 -9.82,-18.44 L-10.38,-21.19 Q-10.57,-22.10 -9.34,-22.50 L-5.67,-23.70 Q-4.44,-24.09 -4.05,-23.24 L-2.89,-20.69 Q-2.51,-19.84 -1.50,-19.84 L1.50,-19.84 Q2.51,-19.84 2.89,-20.69 L4.05,-23.24 Q4.44,-24.09 5.67,-23.70 L9.34,-22.50 Q10.57,-22.10 10.38,-21.19 L9.82,-18.44 Q9.64,-17.53 10.45,-16.94 L12.88,-15.17 Q13.69,-14.58 14.50,-15.04 L16.94,-16.42 Q17.75,-16.88 18.51,-15.84 L20.79,-12.71 Q21.54,-11.67 20.85,-11.04 L18.79,-9.15 Q18.10,-8.52 18.41,-7.56 Z" transform="translate(530.6,304) rotate(-52) scale(1,0.62)" fill="#a3b7ea" class="o" vector-effect="non-scaling-stroke"/>
<circle r="10.8" transform="translate(530.6,304) rotate(-52) scale(1,0.62)" fill="#8aa1de" class="t" vector-effect="non-scaling-stroke"/>
<g clip-path="url(#gh)"><circle r="10.8" transform="translate(526.8,302.8) rotate(-52) scale(1,0.62)" fill="#c6e6f3" class="t" vector-effect="non-scaling-stroke"/></g>
<circle r="10.8" transform="translate(530.6,304) rotate(-52) scale(1,0.62)" class="t n" vector-effect="non-scaling-stroke"/>
</g>
<!-- speech bubble Q -->
<g>
<path d="M436.4,338 q-1,-11 8,-16.6 q8,-5 15.6,-1.2 q7.6,4.6 6.4,15 q-0.4,4.6 -3,9 l4.6,6.4 l-9,-1 q-7.6,5.6 -15.6,2.400000000000002 q-6.4,-4 -7,-14 Z" fill="#e9cb8a" class="o"/>
<path d="M439.6,337 q-0.6,-10.4 7.4,-15.4 q7,-4 13.4,-0.6 q6.6,4.2 5.6,13.6 q-0.4,4.600000000000001 -3,9.200000000000001 l4.6,6.4 l-9,-1 q-6.6,5 -13.4,2.4 q-5.2,-3.6 -5.6,-14.6 Z" fill="#f8dc8e" class="t"/>
<ellipse cx="454.4" cy="335.6" rx="8.6" ry="11.6" transform="rotate(22 454.4 335.6)" fill="#d6ecf6" class="t"/>
</g>
<!-- magnifier + hand -->
<path d="M527.6,356 L531.4,369" stroke="#25314f" stroke-width="5.6" stroke-linecap="round"/>
<path d="M527.6,356 L531.4,369" stroke="#9ca6bb" stroke-width="3" stroke-linecap="round"/>
<ellipse cx="525.6" cy="344.8" rx="12" ry="13.4" transform="rotate(14 525.6 344.8)" fill="#6f89cf" class="o"/>
<ellipse cx="527.4" cy="344.2" rx="11.6" ry="13.2" transform="rotate(14 527.4 344.2)" fill="#8faae2" class="o"/>
<ellipse cx="527.6" cy="344" rx="7.6" ry="9.4" transform="rotate(14 527.6 344)" fill="#d5ebf7" class="t"/>
<path d="M526.6,369.6 q-0.6,-5 4.4,-6 q6,-0.6 7.2,4.6 q0.8,5.6 -3.8,8.2 q-5,1.4 -7,-2.6 Z" fill="#f8c9b0" class="o"/>
<path d="M530.6,365.6 L533.6,375" class="t n"/>
</g>
<g id="art3" class="k3">
<!-- padlock -->
<path d="M853.2,143 V134 a15.8,15.8 0 0 1 31.6,0 V143 h-6.2 V134 a9.6,9.6 0 0 0 -19.2,0 V143 Z" fill="#b3bccb" class="o"/>
<rect x="847.2" y="142.4" width="43.8" height="35.3" rx="4.5" fill="#f7dc80" class="o"/>
<path d="M869,150.3 a4.9,4.9 0 0 1 2.9,8.9 l1.2,8.8 h-8.2 l1.2,-8.8 a4.9,4.9 0 0 1 2.9,-8.9 Z" fill="#aab3c6" class="t"/>
<!-- xml doc -->
<path d="M931.8,118.5 H957.3 L971.2,131.7 V173.7 a4,4 0 0 1 -4,4 H931.8 a4,4 0 0 1 -4,-4 V122.5 a4,4 0 0 1 4,-4 Z" fill="#f3f3fb" class="o"/>
<path d="M957.3,118.5 V128.7 a3,3 0 0 0 3,3 H971.2 Z" fill="#c9d0e6" class="o"/>
<rect x="922.6" y="142.4" width="53.3" height="23.6" rx="3.5" fill="#a6e3d0" class="o"/>
<text x="949.6" y="160.6" font-size="17.3" text-anchor="middle" textLength="36.5" lengthAdjust="spacingAndGlyphs">XML</text>
<!-- smiley -->
<circle cx="1027.5" cy="151.4" r="26" fill="#f8de86" class="o"/>
<path d="M1012.6,148.4 a5,5 0 0 1 10,0" class="o n"/>
<path d="M1031.4,148.4 a5,5 0 0 1 10,0" class="o n"/>
<path d="M1014,158.3 Q1027.5,175 1040,158.3" class="o n"/>
<path d="M1056.8,114 L1040.7,135.2 L1050.3,137.3 L1047.1,152.5 L1063.2,129.8 L1054,127.8 Z" fill="#f5c76c" class="o"/>
<!-- labels -->
<g font-size="13.2" text-anchor="middle">
<text x="868.9" y="197.7" textLength="23.6" lengthAdjust="spacingAndGlyphs">SSL</text>
<text x="869" y="212.7" textLength="84.5" lengthAdjust="spacingAndGlyphs">CERTIFICATE</text>
<text x="949.5" y="197.7" textLength="27" lengthAdjust="spacingAndGlyphs">XML</text>
<text x="949.6" y="212.7" textLength="58.2" lengthAdjust="spacingAndGlyphs">SITEMAP</text>
<text x="1029.2" y="197.7" textLength="33.8" lengthAdjust="spacingAndGlyphs">PAGE</text>
<text x="1029.2" y="212.7" textLength="80.9" lengthAdjust="spacingAndGlyphs">EXPERIENCE</text>
</g>
</g>
<g id="art4" class="k3">
<g class="o n" stroke-width="1.5">
<path d="M873.2,385 V354.6 a6,6 0 0 1 6,-6 H919.3"/><path d="M914.8,344 l4.8,4.6 l-4.8,4.6"/>
<path d="M974.7,348.6 H1019.3 a6,6 0 0 1 6,6 V380"/><path d="M1020.6,375.6 l4.7,4.8 l4.7,-4.8"/>
<path d="M949.4,369 V380.6"/><path d="M944.8,376.4 l4.6,4.6 l4.6,-4.6"/>
<path d="M924,405.7 H903"/><path d="M907.4,401 l-4.7,4.7 l4.7,4.7"/>
<path d="M974.7,405.7 H995.6"/><path d="M991.2,401 l4.7,4.7 l-4.7,4.7"/>
<path d="M949.4,426 V437.6"/><path d="M944.8,433.4 l4.6,4.6 l4.6,-4.6"/>
<path d="M924,462.5 H879.2 a6,6 0 0 1 -6,-6 V430.4"/><path d="M868.5,434.8 l4.7,-4.8 l4.7,4.8"/>
</g>
<g transform="translate(924.1,328)">
<rect x="0" y="0" width="50.6" height="41" rx="4" fill="#f1f3fb"/>
<path d="M0,8 V4 a4,4 0 0 1 4,-4 H46.6 a4,4 0 0 1 4,4 V8 Z" fill="#96abe0"/>
<path d="M0,8 H50.6" class="t n"/>
<rect x="6.2" y="12.2" width="15.5" height="15.3" rx="2" fill="#b4c0e8"/>
<rect x="26.5" y="14.2" width="18.5" height="3.2" rx="1.6" fill="#bcc6e8"/>
<rect x="26.5" y="21.3" width="18.5" height="3.2" rx="1.6" fill="#bcc6e8"/>
<rect x="6.2" y="31" width="26.5" height="3.2" rx="1.6" fill="#bcc6e8"/>
<rect x="0" y="0" width="50.6" height="41" rx="4" class="o n"/>
</g>
<g transform="translate(924.1,385.1)">
<rect x="0" y="0" width="50.6" height="41" rx="4" fill="#f1f3fb"/>
<path d="M0,8 V4 a4,4 0 0 1 4,-4 H46.6 a4,4 0 0 1 4,4 V8 Z" fill="#96abe0"/>
<path d="M0,8 H50.6" class="t n"/>
<rect x="6.2" y="12.2" width="15.5" height="15.3" rx="2" fill="#b4c0e8"/>
<rect x="26.5" y="14.2" width="18.5" height="3.2" rx="1.6" fill="#bcc6e8"/>
<rect x="26.5" y="21.3" width="18.5" height="3.2" rx="1.6" fill="#bcc6e8"/>
<rect x="6.2" y="31" width="26.5" height="3.2" rx="1.6" fill="#bcc6e8"/>
<rect x="0" y="0" width="50.6" height="41" rx="4" class="o n"/>
</g>
<g transform="translate(848.2,385.1)">
<rect x="0" y="0" width="50.6" height="41" rx="4" fill="#f1f3fb"/>
<path d="M0,8 V4 a4,4 0 0 1 4,-4 H46.6 a4,4 0 0 1 4,4 V8 Z" fill="#96abe0"/>
<path d="M0,8 H50.6" class="t n"/>
<rect x="6.2" y="12.2" width="15.5" height="15.3" rx="2" fill="#b4c0e8"/>
<rect x="26.5" y="14.2" width="18.5" height="3.2" rx="1.6" fill="#bcc6e8"/>
<rect x="26.5" y="21.3" width="18.5" height="3.2" rx="1.6" fill="#bcc6e8"/>
<rect x="6.2" y="31" width="26.5" height="3.2" rx="1.6" fill="#bcc6e8"/>
<rect x="0" y="0" width="50.6" height="41" rx="4" class="o n"/>
</g>
<g transform="translate(1000.1,385.1)">
<rect x="0" y="0" width="50.6" height="41" rx="4" fill="#f1f3fb"/>
<path d="M0,8 V4 a4,4 0 0 1 4,-4 H46.6 a4,4 0 0 1 4,4 V8 Z" fill="#96abe0"/>
<path d="M0,8 H50.6" class="t n"/>
<rect x="6.2" y="12.2" width="15.5" height="15.3" rx="2" fill="#b4c0e8"/>
<rect x="26.5" y="14.2" width="18.5" height="3.2" rx="1.6" fill="#bcc6e8"/>
<rect x="26.5" y="21.3" width="18.5" height="3.2" rx="1.6" fill="#bcc6e8"/>
<rect x="6.2" y="31" width="26.5" height="3.2" rx="1.6" fill="#bcc6e8"/>
<rect x="0" y="0" width="50.6" height="41" rx="4" class="o n"/>
</g>
<g transform="translate(924.1,441.6)">
<rect x="0" y="0" width="50.6" height="41" rx="4" fill="#f1f3fb"/>
<path d="M0,8 V4 a4,4 0 0 1 4,-4 H46.6 a4,4 0 0 1 4,4 V8 Z" fill="#96abe0"/>
<path d="M0,8 H50.6" class="t n"/>
<rect x="6.2" y="12.2" width="15.5" height="15.3" rx="2" fill="#b4c0e8"/>
<rect x="26.5" y="14.2" width="18.5" height="3.2" rx="1.6" fill="#bcc6e8"/>
<rect x="26.5" y="21.3" width="18.5" height="3.2" rx="1.6" fill="#bcc6e8"/>
<rect x="6.2" y="31" width="26.5" height="3.2" rx="1.6" fill="#bcc6e8"/>
<rect x="0" y="0" width="50.6" height="41" rx="4" class="o n"/>
</g>
<g font-size="13.2" text-anchor="middle">
<text x="1025" y="457.8" textLength="38.5" lengthAdjust="spacingAndGlyphs">TOPIC</text>
<text x="1025" y="473" textLength="68.3" lengthAdjust="spacingAndGlyphs">CLUSTERS</text>
</g>
</g>
<g id="art5" class="k5">
<clipPath id="c5"><rect x="844.3" y="602.4" width="134.1" height="110.8" rx="5.5"/></clipPath>
<rect x="844.3" y="602.4" width="134.1" height="110.8" rx="5.5" fill="#fdfdff"/>
<rect x="844.3" y="602.4" width="134.1" height="16.6" fill="#90a6e3" clip-path="url(#c5)"/>
<path d="M844.3,619 H978.4" class="o n"/>
<circle cx="853.6" cy="610.7" r="3.2" fill="#f2a2b8" class="t"/>
<circle cx="864.6" cy="610.7" r="3.2" fill="#e9e0f6" class="t"/>
<circle cx="875.4" cy="610.7" r="3.2" fill="#bdeedd" class="t"/>
<rect x="854.9" y="630.1" width="38.8" height="4.2" rx="2.1" fill="#b9c4e6"/>
<rect x="854.9" y="640.2" width="26.1" height="4.2" rx="2.1" fill="#b9c4e6"/>
<defs>
<linearGradient id="a5a" gradientUnits="userSpaceOnUse" x1="0" y1="660" x2="0" y2="704"><stop offset="0" stop-color="#c9baec"/><stop offset="1" stop-color="#ded4f4"/></linearGradient>
<linearGradient id="a5b" gradientUnits="userSpaceOnUse" x1="0" y1="655" x2="0" y2="704"><stop offset="0" stop-color="#8fb1e8"/><stop offset="1" stop-color="#b3caef"/></linearGradient>
<linearGradient id="a5c" gradientUnits="userSpaceOnUse" x1="0" y1="640" x2="0" y2="704"><stop offset="0" stop-color="#84dcb8"/><stop offset="1" stop-color="#a5e6ca"/></linearGradient>
</defs>
<!-- area segments -->
<g filter="url(#b05)">
<path d="M859,702.2 V694 L879.8,678 V702.2 Z" fill="url(#a5a)"/>
<path d="M879.8,702.2 V678 L887.1,686 L901.1,672.5 V702.2 Z" fill="url(#a5a)"/>
<path d="M901.1,702.2 V672.5 L915.3,659.5 L922.6,666 V702.2 Z" fill="url(#a5b)"/>
<path d="M922.6,702.2 V666 L932.4,675 L943.4,664 V702.2 Z" fill="url(#a5a)"/>
<path d="M943.4,702.2 V664 L964.2,643.5 V702.2 Z" fill="url(#a5c)"/>
</g>
<g class="t n"><path d="M879.8,702.2 V680"/><path d="M901.1,702.2 V674"/><path d="M922.6,702.2 V667"/><path d="M943.4,702.2 V665"/></g>
<path d="M854.9,702.2 H968.6" class="o n"/>
<!-- green trend arrow -->
<path d="M857.2,680.4 L876.3,661.9 L887.2,669.9 L915.5,642.9 L932.6,658.8 L955.6,635.6 L950.8,630.8 L969.1,627.4 L966,646 L961.2,641.2 L932.7,669.8 L915.3,653.6 L887.8,679.9 L876.9,671.9 L862.8,685.6 Z" fill="#80d9b6" class="o"/>
<rect x="844.3" y="602.4" width="134.1" height="110.8" rx="5.5" class="o n"/>
<!-- growth report -->
<g font-size="13.2" text-anchor="middle">
<text x="1022.6" y="616.2" textLength="59.2" lengthAdjust="spacingAndGlyphs">GROWTH</text>
<text x="1022.6" y="630.9" textLength="50.8" lengthAdjust="spacingAndGlyphs">REPORT</text>
</g>
<rect x="992.8" y="695.6" width="11" height="18.1" rx="1.8" fill="#cbbba9" class="o"/>
<rect x="1008.9" y="678.9" width="11" height="34.8" rx="1.8" fill="#90b2ea" class="o"/>
<rect x="1025.3" y="686.8" width="11" height="26.9" rx="1.8" fill="#c9b8ee" class="o"/>
<rect x="1041.6" y="666.7" width="10.8" height="47" rx="1.8" fill="#86dbb9" class="o"/>
<path d="M992.4,675.8 L1016.2,652.4 L1026.6,662.3 L1041.4,647.3 L1036.8,642.8 L1054.4,639.2 L1051.4,657 L1046.6,652.3 L1026.6,672.3 L1016.2,662.4 L997.4,680.8 Z" fill="#9ea7e6" class="o"/>
</g>
<g id="art6" class="k6">
<defs>
<linearGradient id="sw" gradientUnits="userSpaceOnUse" x1="1235" y1="495" x2="1420" y2="360"><stop offset="0" stop-color="#7fd8c0"/><stop offset="0.45" stop-color="#8fe0c4"/><stop offset="1" stop-color="#8ddfc0"/></linearGradient>
<linearGradient id="sw2" gradientUnits="userSpaceOnUse" x1="1300" y1="440" x2="1330" y2="490"><stop offset="0.35" stop-color="#9cc0ec" stop-opacity="0"/><stop offset="1" stop-color="#93b4ea" stop-opacity="0.95"/></linearGradient>
</defs>
<!-- search bar -->
<rect x="1253.8" y="308.5" width="183.4" height="29.5" rx="5.5" fill="#ffffff"/>
<path d="M1402.4,308.5 H1431.7 a5.5,5.5 0 0 1 5.5,5.5 V332.5 a5.5,5.5 0 0 1 -5.5,5.5 H1402.4 Z" fill="#90a9e1"/>
<path d="M1402.4,308.5 V338" class="o n"/>
<rect x="1253.8" y="308.5" width="183.4" height="29.5" rx="5.5" class="o n"/>
<circle cx="1417" cy="320.6" r="5" fill="none" stroke="#f4f6fd" stroke-width="2"/>
<path d="M1420.8,324.6 L1427.6,331.4" stroke="#f4f6fd" stroke-width="2.4" stroke-linecap="round"/>
<!-- top result badge -->
<rect x="1254.2" y="352.7" width="119.1" height="24.3" rx="5.5" fill="#f9dc8c" class="o"/>
<circle cx="1269.2" cy="365" r="8.6" fill="#fbe5a6"/>
<path d="M1269.2,358.6 l1.9,4.2 4.5,0.5 -3.4,3.1 0.9,4.5 -3.9,-2.3 -3.9,2.3 0.9,-4.5 -3.4,-3.1 4.5,-0.5 Z" fill="#f9dc8c"/>
<text x="1325.2" y="369.9" fill="#2b2733" font-size="13.2" text-anchor="middle" textLength="79.6" lengthAdjust="spacingAndGlyphs">TOP RESULT</text>
<!-- star & lines -->
<path d="M1269.8,381.9 l2.9,6.2 6.7,0.8 -5,4.6 1.4,6.7 -6,-3.4 -6,3.4 1.4,-6.7 -5,-4.6 6.7,-0.8 Z" fill="#f9dc80" class="t"/>
<rect x="1285.8" y="385" width="64.7" height="4" rx="2" fill="#babfe6"/>
<rect x="1285.8" y="394" width="46.4" height="4" rx="2" fill="#babfe6"/>
<!-- magnifier -->
<path d="M1247.5,344.5 L1238,355" stroke="#25314f" stroke-width="7.5" stroke-linecap="butt"/>
<path d="M1248.5,343.5 L1237,356" stroke="#c3d2ef" stroke-width="4.6" stroke-linecap="butt"/>
<path d="M1237.2,356.4 L1213.4,382.4" stroke="#25314f" stroke-width="15" stroke-linecap="round"/>
<path d="M1237.2,356.4 L1213.4,382.4" stroke="#8faae2" stroke-width="12" stroke-linecap="round"/>
<circle cx="1268.8" cy="324" r="25.3" fill="#eaf1fb" fill-opacity="0.78"/>
<circle cx="1268.8" cy="324" r="29.3" fill="none" stroke="#25314f" stroke-width="9.6"/>
<circle cx="1268.8" cy="324" r="29.3" fill="none" stroke="#90abe3" stroke-width="6.6"/>
<!-- swoosh -->
<path d="M1232.7,494.8 C1262,492 1300,480 1327,460 C1352,441 1374,414 1389.5,388.8 L1376.3,382 L1421.5,356.5 L1423.4,409.3 L1409.7,400.6 C1396,426 1378,447 1352,464 C1322,483 1275,494 1232.7,494.8 Z" fill="url(#sw)"/>
<path d="M1232.7,494.8 C1262,492 1300,480 1327,460 C1352,441 1374,414 1389.5,388.8 L1376.3,382 L1421.5,356.5 L1423.4,409.3 L1409.7,400.6 C1396,426 1378,447 1352,464 C1322,483 1275,494 1232.7,494.8 Z" fill="url(#sw2)"/>
<path d="M1232.7,494.8 C1262,492 1300,480 1327,460 C1352,441 1374,414 1389.5,388.8 L1376.3,382 L1421.5,356.5 L1423.4,409.3 L1409.7,400.6 C1396,426 1378,447 1352,464 C1322,483 1275,494 1232.7,494.8 Z" class="o n"/>
<path id="gp" d="M1253,484.5 Q1316,466 1364,414" fill="none"/>
<text font-size="26.5" textLength="125" lengthAdjust="spacing" stroke="#232655" stroke-width="0.5"><textPath href="#gp" startOffset="1">GROWTH</textPath></text>
<g>
<clipPath id="pc1"><circle cx="1417.9" cy="452.4" r="12.799999999999999"/></clipPath>
<circle cx="1417.9" cy="452.4" r="13.6" fill="#f6f7fd" class="o"/>
<g clip-path="url(#pc1)">
<path d="M1408.1080000000002,468.0 V462.13759999999996 a9.792,7.343999999999999 0 0 1 19.584,0 V468.0 Z" fill="#8eaee6" class="t"/>
<circle cx="1417.9" cy="449.952" r="4.896" fill="#8eaee6" class="t"/>
</g>
<circle cx="1417.9" cy="452.4" r="13.6" class="o n"/>
</g><g>
<clipPath id="pc2"><circle cx="1395.4" cy="465.3" r="16.0"/></clipPath>
<circle cx="1395.4" cy="465.3" r="16.8" fill="#f6f7fd" class="o"/>
<g clip-path="url(#pc2)">
<path d="M1383.304,484.1 V477.3288 a12.096,9.072 0 0 1 24.192,0 V484.1 Z" fill="#8eaee6" class="t"/>
<circle cx="1395.4" cy="462.276" r="6.048" fill="#8eaee6" class="t"/>
</g>
<circle cx="1395.4" cy="465.3" r="16.8" class="o n"/>
</g><g>
<clipPath id="pc3"><circle cx="1371" cy="483" r="16.0"/></clipPath>
<circle cx="1371" cy="483" r="16.8" fill="#f6f7fd" class="o"/>
<g clip-path="url(#pc3)">
<path d="M1358.904,501.8 V495.0288 a12.096,9.072 0 0 1 24.192,0 V501.8 Z" fill="#8fdcbc" class="t"/>
<circle cx="1371" cy="479.976" r="6.048" fill="#8fdcbc" class="t"/>
</g>
<circle cx="1371" cy="483" r="16.8" class="o n"/>
</g><g>
<clipPath id="pc4"><circle cx="1420.6" cy="483" r="16.0"/></clipPath>
<circle cx="1420.6" cy="483" r="16.8" fill="#f6f7fd" class="o"/>
<g clip-path="url(#pc4)">
<path d="M1408.504,501.8 V495.0288 a12.096,9.072 0 0 1 24.192,0 V501.8 Z" fill="#8fdcbc" class="t"/>
<circle cx="1420.6" cy="479.976" r="6.048" fill="#8fdcbc" class="t"/>
</g>
<circle cx="1420.6" cy="483" r="16.8" class="o n"/>
</g><g>
<clipPath id="pc5"><circle cx="1395.8" cy="499" r="18.3"/></clipPath>
<circle cx="1395.8" cy="499" r="19.1" fill="#f6f7fd" class="o"/>
<g clip-path="url(#pc5)">
<path d="M1382.048,520.1 V512.6756 a13.752,10.314 0 0 1 27.504,0 V520.1 Z" fill="#8eaee6" class="t"/>
<circle cx="1395.8" cy="495.562" r="6.876" fill="#8eaee6" class="t"/>
</g>
<circle cx="1395.8" cy="499" r="19.1" class="o n"/>
</g>
</g>
<g id="icons">
<!-- INDEXING -->
<clipPath id="ci1"><rect x="429" y="180.6" width="70.4" height="57.5" rx="4.5"/></clipPath>
<rect x="429" y="180.6" width="70.4" height="57.5" rx="4.5" fill="#eef1fb"/>
<rect x="429" y="180.6" width="70.4" height="12.2" fill="#8faae4" clip-path="url(#ci1)"/>
<path d="M429,192.8 H499.4" class="t n"/>
<circle cx="437.4" cy="187" r="1.6" fill="#bcd6f6"/><circle cx="442.6" cy="187" r="1.6" fill="#bcd6f6"/><circle cx="447.8" cy="187" r="1.6" fill="#bcd6f6"/>
<g fill="#c0c6de"><rect x="437" y="201.2" width="56" height="3" rx="1.5"/><rect x="437" y="208.7" width="56" height="3" rx="1.5"/><rect x="437" y="217" width="56" height="3" rx="1.5"/><rect x="437" y="224.6" width="50" height="3" rx="1.5"/></g>
<rect x="429" y="180.6" width="70.4" height="57.5" rx="4.5" class="o n"/>
<path d="M484,223 L488.5,228" stroke="#25314f" stroke-width="6.5"/>
<path d="M483,222 L489,228.6" stroke="#b9c8ec" stroke-width="3.6"/>
<path d="M489.5,229 L502,242.6" stroke="#25314f" stroke-width="10" stroke-linecap="round"/>
<path d="M489.5,229 L502,242.6" stroke="#93abe2" stroke-width="7" stroke-linecap="round"/>
<circle cx="471" cy="209.2" r="14.7" fill="#eef4fc" fill-opacity="0.8"/>
<circle cx="471" cy="209.2" r="17.7" fill="none" stroke="#25314f" stroke-width="7.6"/>
<circle cx="471" cy="209.2" r="17.7" fill="none" stroke="#93abe2" stroke-width="4.8"/>
<text x="466" y="262.8" font-size="13.2" text-anchor="middle" textLength="62.9" lengthAdjust="spacingAndGlyphs">INDEXING</text>
<!-- MOBILE -->
<path d="M600.7,230 L595.6,241 a1.2,1.2 0 0 0 1.1,1.8 H618 a1.2,1.2 0 0 0 1.1,-1.8 L614.7,230 Z" fill="#c5cbd8" class="o"/>
<rect x="571.4" y="179.7" width="72.3" height="51" rx="4.5" fill="#b9c0ce" class="o"/>
<rect x="576.5" y="184.6" width="62.1" height="36.2" rx="1.5" fill="#f0f2fa" class="t"/>
<circle cx="607.3" cy="225.8" r="1.4" fill="#25314f"/>
<rect x="556.5" y="193.9" width="28" height="49.3" rx="4.5" fill="#b9c0ce" class="o"/>
<rect x="556.5" y="200.8" width="28" height="33.6" fill="#f0f2fa" class="t"/>
<path d="M567.3,197.5 H573.7" class="o n"/><path d="M568.8,239 H572.2" class="o n"/>
<circle cx="641.2" cy="226" r="17.3" fill="#80d6aa" class="o"/>
<path d="M631.7,226 L637.6,231.8 L649.6,220.2" fill="none" stroke="#25314f" stroke-width="5.6" stroke-linecap="round" stroke-linejoin="round"/>
<path d="M631.7,226 L637.6,231.8 L649.6,220.2" fill="none" stroke="#f7fbfa" stroke-width="2.9" stroke-linecap="round" stroke-linejoin="round"/>
<text x="607.3" y="262.8" font-size="13.2" text-anchor="middle" textLength="148.6" lengthAdjust="spacingAndGlyphs">MOBILE-FRIENDLINESS</text>
<!-- SITE SPEED -->
<rect x="464" y="571" width="16.5" height="7" rx="1.5" fill="#93abe2" class="o"/>
<rect x="468.6" y="578" width="7" height="6" fill="#93abe2" class="o"/>
<rect x="-4" y="-3.2" width="8" height="6.4" rx="1.5" transform="translate(493.2,587.2) rotate(42)" fill="#93abe2" class="o"/>
<circle cx="472" cy="611" r="21" fill="#f1f3fb"/>
<path d="M472,611 V590 A21,21 0 0 1 491.7,618.2 Z" fill="#f8dc9a"/>
<circle cx="472" cy="611" r="24.3" fill="none" stroke="#25314f" stroke-width="8"/>
<circle cx="472" cy="611" r="24.3" fill="none" stroke="#93abe2" stroke-width="5.4"/>
<path d="M484.6,597.6 L474.3,614 a3.4,3.4 0 0 1 -5.4,-4 Z" fill="#93abe2" class="t"/>
<path d="M501.5,599.5 L514,617 H507.3 V637.6 H494.7 V617 H487.6 Z" fill="#86dcae" class="o"/>
<text x="478.6" y="658.6" font-size="13.2" text-anchor="middle" textLength="74.7" lengthAdjust="spacingAndGlyphs">SITE SPEED</text>
<!-- STRUCTURED DATA -->
<clipPath id="ci4"><rect x="580.5" y="576.3" width="70.5" height="61.6" rx="5"/></clipPath>
<rect x="580.5" y="576.3" width="70.5" height="61.6" rx="5" fill="#eef1fb"/>
<rect x="580.5" y="576.3" width="70.5" height="13.7" fill="#93abe6" clip-path="url(#ci4)"/>
<path d="M580.5,590 H651" class="t n"/>
<circle cx="588.3" cy="583.2" r="2.5" fill="#b7c6f0" class="t"/><circle cx="597" cy="583.2" r="2.5" fill="#b7c6f0" class="t"/><circle cx="605.6" cy="583.2" r="2.5" fill="#b7c6f0" class="t"/>
<rect x="580.5" y="576.3" width="70.5" height="61.6" rx="5" class="o n"/>
<g fill="none" stroke-linecap="round" stroke-linejoin="round">
<g stroke="#25314f" stroke-width="6.4"><path d="M603.6,604.4 L594.4,613 L603.6,621.8"/><path d="M620.6,601.6 L611.2,626.6"/><path d="M628.2,604.4 L637.4,613 L628.2,621.8"/></g>
<g stroke="#93a7e4" stroke-width="3.6"><path d="M603.6,604.4 L594.4,613 L603.6,621.8"/><path d="M620.6,601.6 L611.2,626.6"/><path d="M628.2,604.4 L637.4,613 L628.2,621.8"/></g>
</g>
<g font-size="13.2" text-anchor="middle">
<text x="615.5" y="658.6" textLength="89" lengthAdjust="spacingAndGlyphs">STRUCTURED</text>
<text x="615.7" y="673.7" textLength="34.5" lengthAdjust="spacingAndGlyphs">DATA</text>
</g>
</g>
<path d="M1443.6,732.5 C1445.6,748 1452,756 1472,758.6 C1452,761.2 1445.6,769.2 1443.6,784.7 C1441.6,769.2 1435.2,761.2 1415.3,758.6 C1435.2,756 1441.6,748 1443.6,732.5 Z" fill="#f6f7fd"/>
</svg>
</body>
</html>
